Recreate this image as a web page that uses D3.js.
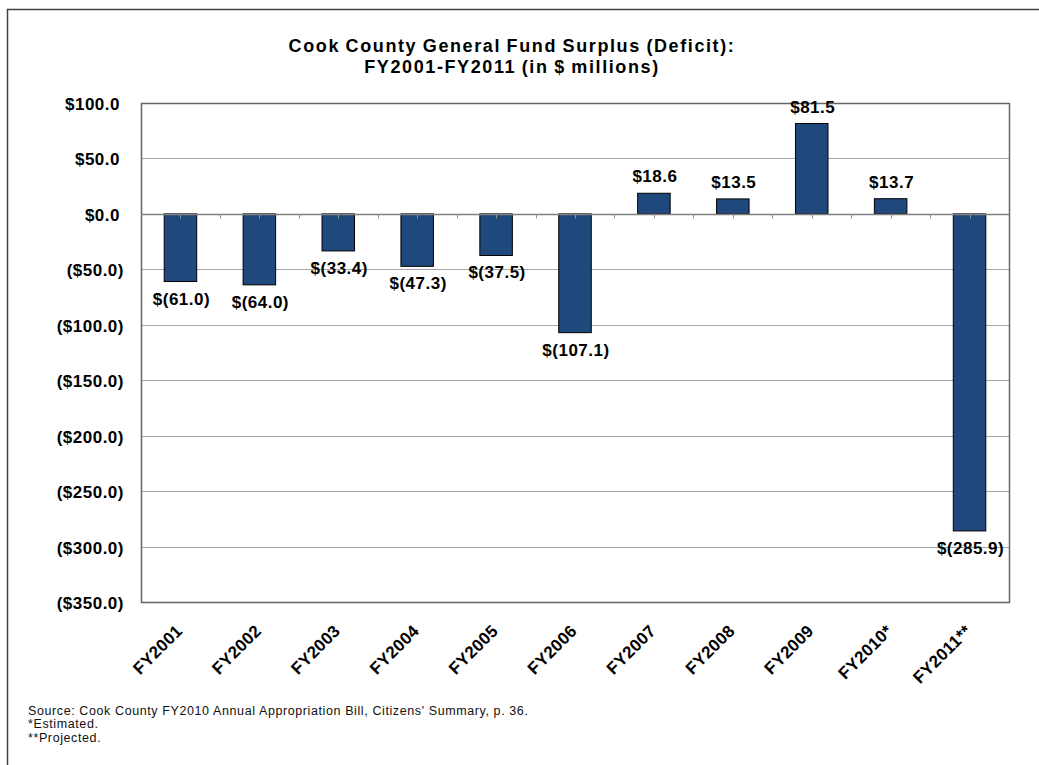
<!DOCTYPE html>
<html>
<head>
<meta charset="utf-8">
<script src="https://cdn.jsdelivr.net/npm/d3@7"></script>
<style>
  html, body { margin: 0; padding: 0; background: #fff; }
  svg { display: block; font-family: 'Liberation Sans', Arial, sans-serif; }
</style>
</head>
<body>
<div id="chart"></div>
<script>
// chart data
const years = ['FY2001', 'FY2002', 'FY2003', 'FY2004', 'FY2005', 'FY2006',
  'FY2007', 'FY2008', 'FY2009', 'FY2010*', 'FY2011**'];
const surplus = [-61.0, -64.0, -33.4, -47.3, -37.5, -107.1, 18.6, 13.5, 81.5, 13.7, -285.9];
const yTicks = [100, 50, 0, -50, -100, -150, -200, -250, -300, -350];
const titleLines = ['Cook County General Fund Surplus (Deficit):', 'FY2001-FY2011 (in $ millions)'];
const notes = [
  "Source: Cook County  FY2010 Annual Appropriation Bill, Citizens' Summary, p. 36.",
  '*Estimated.',
  '**Projected.'
];

const width = 1039;
const height = 765;
const plot = { left: 141, right: 1009, top: 103, bottom: 602 };

const rows = years.map((y, i) => ({ year: y, value: surplus[i] }));

const svg = d3.select('#chart')
  .append('svg')
  .attr('width', width)
  .attr('height', height);

// outer frame (only top + left show in the picture)
svg.append('path')
  .attr('d', `M7.5,${height} V9.5 H${width}`)
  .attr('fill', 'none')
  .attr('stroke', '#404040')
  .attr('stroke-width', 1.5);

const x = d3.scaleBand()
  .domain(years)
  .range([plot.left, plot.right])
  .paddingInner(0.588)
  .paddingOuter(0.294);

const y = d3.scaleLinear()
  .domain([-350, 100])
  .range([plot.bottom, plot.top]);

// gridlines
svg.append('g')
  .selectAll('line')
  .data(yTicks.filter(d => d !== 100 && d !== -350 && d !== 0))
  .enter()
  .append('line')
  .attr('x1', plot.left)
  .attr('x2', plot.right)
  .attr('y1', d => Math.round(y(d)) + 0.5)
  .attr('y2', d => Math.round(y(d)) + 0.5)
  .attr('stroke', '#a6a6a6')
  .attr('stroke-width', 1);

// plot border
svg.append('rect')
  .attr('x', plot.left + 0.5)
  .attr('y', plot.top + 0.5)
  .attr('width', plot.right - plot.left)
  .attr('height', plot.bottom - plot.top)
  .attr('fill', 'none')
  .attr('stroke', '#666')
  .attr('stroke-width', 1.5);

// y labels, negatives in parentheses hang past the positive ones
svg.append('g')
  .selectAll('text')
  .data(yTicks)
  .enter()
  .append('text')
  .attr('x', d => (d < 0 ? 124 : 120))
  .attr('y', d => y(d) + 7)
  .attr('text-anchor', 'end')
  .style('font-size', '17px')
  .style('font-weight', 'bold')
  .style('letter-spacing', '0.5px')
  .text(d => (d < 0 ? `($${Math.abs(d).toFixed(1)})` : `$${d.toFixed(1)}`));

// bars
svg.append('g')
  .selectAll('rect')
  .data(rows)
  .enter()
  .append('rect')
  .attr('x', d => x(d.year))
  .attr('y', d => y(Math.max(0, d.value)))
  .attr('width', x.bandwidth())
  .attr('height', d => Math.abs(y(d.value) - y(0)))
  .attr('fill', '#1f497d')
  .attr('stroke', '#000')
  .attr('stroke-width', 1);

// zero axis line with small ticks at category edges and centres
const y0 = Math.round(y(0)) + 0.5;
svg.append('line')
  .attr('x1', plot.left)
  .attr('x2', plot.right)
  .attr('y1', y0)
  .attr('y2', y0)
  .attr('stroke', '#808080')
  .attr('stroke-width', 1.5);

const tickXs = [];
years.forEach((yr, i) => {
  tickXs.push(x(yr) + x.bandwidth() / 2);
  if (i > 0) tickXs.push(x(yr) - (x.step() - x.bandwidth()) / 2);
});
svg.append('g')
  .selectAll('line')
  .data(tickXs)
  .enter()
  .append('line')
  .attr('x1', d => Math.round(d) + 0.5)
  .attr('x2', d => Math.round(d) + 0.5)
  .attr('y1', y0)
  .attr('y2', y0 + 4)
  .attr('stroke', '#909090')
  .attr('stroke-width', 1);

// value labels
const fmtVal = v => (v < 0 ? `$(${Math.abs(v).toFixed(1)})` : `$${v.toFixed(1)}`);
svg.append('g')
  .selectAll('text')
  .data(rows)
  .enter()
  .append('text')
  .attr('x', d => x(d.year) + x.bandwidth() / 2 + 1)
  .attr('y', d => (d.value < 0 ? y(d.value) + 23 : y(d.value) - 11))
  .attr('text-anchor', 'middle')
  .style('font-size', '17px')
  .style('font-weight', 'bold')
  .style('letter-spacing', '0.5px')
  .text(d => fmtVal(d.value));

// rotated category labels
svg.append('g')
  .selectAll('text')
  .data(years)
  .enter()
  .append('text')
  .attr('transform', d => `translate(${x(d) + x.bandwidth() / 2 + 3},632) rotate(-45)`)
  .attr('text-anchor', 'end')
  .style('font-size', '17px')
  .style('font-weight', 'bold')
  .style('letter-spacing', '0.3px')
  .text(d => d);

// title
svg.append('g')
  .selectAll('text')
  .data(titleLines)
  .enter()
  .append('text')
  .attr('x', 512)
  .attr('y', (d, i) => 52 + i * 21)
  .attr('text-anchor', 'middle')
  .style('font-size', '18px')
  .style('font-weight', 'bold')
  .style('letter-spacing', '1.6px')
  .style('word-spacing', '-1px')
  .text(d => d);

// footnotes
svg.append('g')
  .selectAll('text')
  .data(notes)
  .enter()
  .append('text')
  .attr('x', 28)
  .attr('y', (d, i) => 715 + i * 13.3)
  .style('font-size', '12.5px')
  .style('letter-spacing', '0.6px')
  .style('fill', '#111')
  .text(d => d);
</script>
</body>
</html>
